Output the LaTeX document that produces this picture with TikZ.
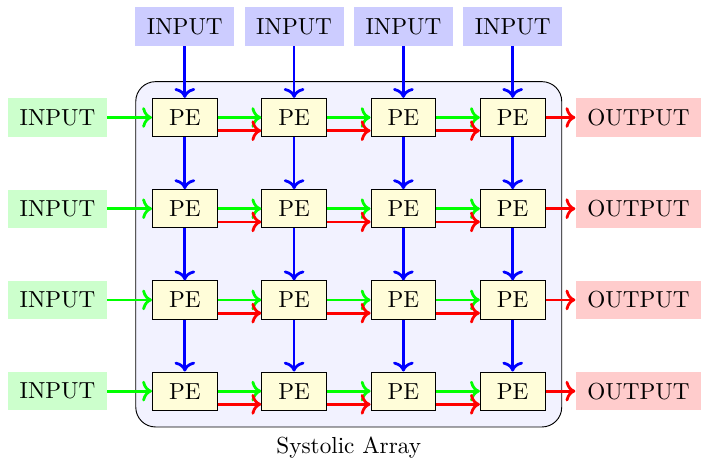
\documentclass[tikz,border=0pt]{standalone}
\usepackage{xcolor}
\usepackage{tikz}
\usetikzlibrary{positioning, calc, fit, backgrounds, arrows.meta}

\tikzset{
  pe/.style={draw, fill=yellow!15, minimum width=0.98cm, minimum height=0.58cm, inner sep=2pt},
  inbox/.style={fill=green!20, minimum height=0.58cm, inner xsep=5pt},
  topbox/.style={fill=blue!20, minimum height=0.58cm, inner xsep=5pt},
  outbox/.style={fill=red!20, minimum height=0.58cm, inner xsep=5pt},
  vflow/.style={-{Computer Modern Rightarrow}, very thick, blue},
  hflow/.style={-{Computer Modern Rightarrow}, very thick, green},
  rflow/.style={-{Computer Modern Rightarrow}, very thick, red}
}

\begin{document}
\begin{tikzpicture}
      \useasboundingbox (-2.80, 1.78) rectangle (7.821, -5.159);

      % PE grid
      \foreach \r in {1,...,4} {
        \foreach \c in {1,...,4} {
          \node[pe] (p\r\c) at ({(\c-1)*1.656}, {-(\r-1)*1.382}) {PE};
        }
      }

      % Array frame
      \begin{scope}[on background layer]
        \node[draw, fill=blue!5, rounded corners=0.3cm, inner sep=7pt, fit=(p11) (p44),
              label={[inner sep=3pt, label distance=0.8pt]below:Systolic Array}] (frame) {};
      \end{scope}

      % Inputs and outputs
      \foreach \c in {1,...,4} {
        \node[topbox] (t\c) at ({(\c-1)*1.656}, 1.38) {INPUT};
      }
      \foreach \r in {1,...,4} {
        \node[inbox] (in\r) at (-1.929, {-(\r-1)*1.382}) {INPUT};
        \node[outbox] (out\r) at (6.874, {-(\r-1)*1.382}) {OUTPUT};
      }

      % Vertical flow
      \foreach \c in {1,...,4} {
        \draw[vflow] (t\c) -- (p1\c);
        \draw[vflow] (p1\c) -- (p2\c);
        \draw[vflow] (p2\c) -- (p3\c);
        \draw[vflow] (p3\c) -- (p4\c);
      }

      % Horizontal flow
      \foreach \r in {1,...,4} {
        \draw[hflow] (in\r) -- (p\r1);
        \draw[hflow] (p\r1) -- (p\r2);
        \draw[hflow] (p\r2) -- (p\r3);
        \draw[hflow] (p\r3) -- (p\r4);
        \draw[rflow] ([yshift=-0.2cm]p\r1.east) -- ([yshift=-0.2cm]p\r2.west);
        \draw[rflow] ([yshift=-0.2cm]p\r2.east) -- ([yshift=-0.2cm]p\r3.west);
        \draw[rflow] ([yshift=-0.2cm]p\r3.east) -- ([yshift=-0.2cm]p\r4.west);
        \draw[rflow] (p\r4) -- (out\r);
      }
\end{tikzpicture}
\end{document}
